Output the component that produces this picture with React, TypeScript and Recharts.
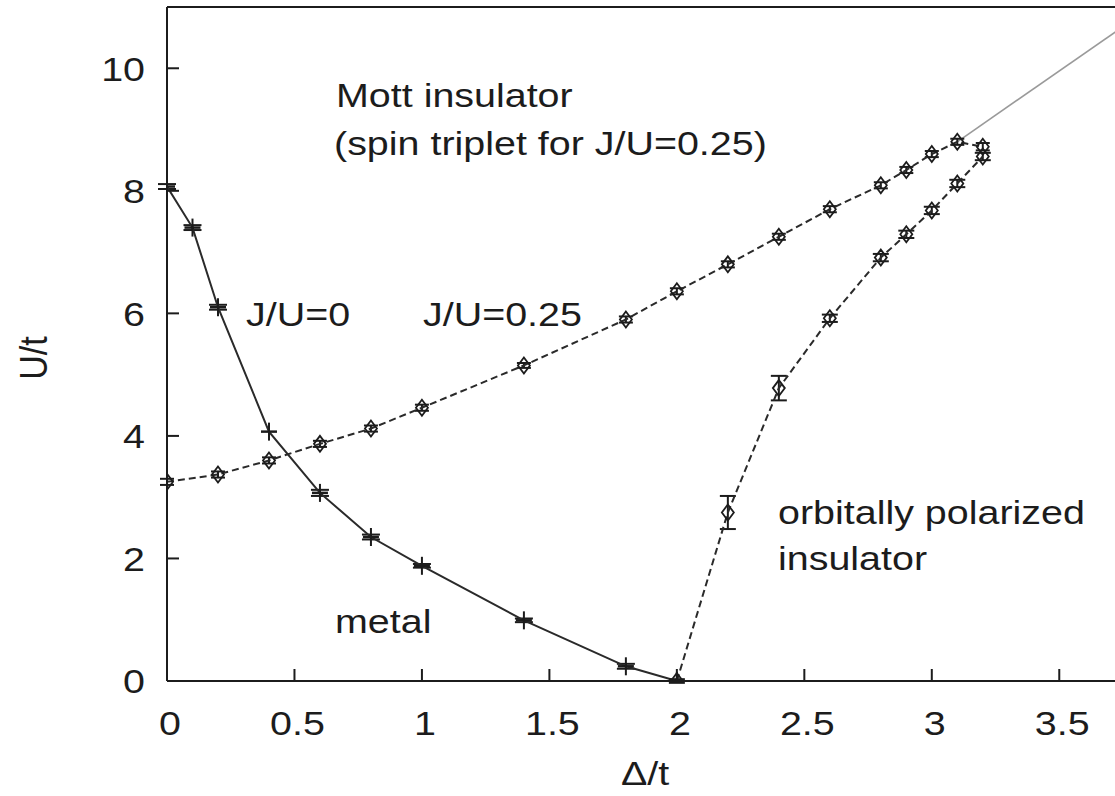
import React from 'react';
import { LineChart, Line, XAxis, YAxis, ErrorBar } from 'recharts';

// J/U = 0 boundary (solid, + markers)
const deltaJ0 = [0, 0.1, 0.2, 0.4, 0.6, 0.8, 1.0, 1.4, 1.8, 2.0];
const uJ0 = [8.07, 7.4, 6.1, 4.07, 3.07, 2.35, 1.88, 0.99, 0.24, 0.0];
const errJ0 = [0.04, 0.04, 0.04, 0.0, 0.05, 0.04, 0.03, 0.03, 0.04, 0.0];

// J/U = 0.25 Mott boundary (dashed, diamonds)
const deltaJ25 = [0, 0.2, 0.4, 0.6, 0.8, 1.0, 1.4, 1.8, 2.0, 2.2, 2.4, 2.6, 2.8, 2.9, 3.0, 3.1, 3.2];
const uJ25 = [3.25, 3.37, 3.6, 3.87, 4.12, 4.46, 5.15, 5.9, 6.36, 6.8, 7.25, 7.7, 8.09, 8.34, 8.6, 8.8, 8.72];
const errJ25 = [0.05, 0.05, 0.05, 0.05, 0.05, 0.05, 0.04, 0.05, 0.05, 0.05, 0.05, 0.05, 0.05, 0.05, 0.05, 0.05, 0.06];

// orbitally polarized insulator boundary (dashed, diamonds)
const deltaOrb = [2.0, 2.2, 2.4, 2.6, 2.8, 2.9, 3.0, 3.1, 3.2];
const uOrb = [0.0, 2.75, 4.78, 5.92, 6.91, 7.29, 7.68, 8.12, 8.56];
const errOrb = [0.03, 0.27, 0.2, 0.06, 0.06, 0.06, 0.06, 0.06, 0.06];

// thin grey continuation
const deltaFit = [3.1, 3.75];
const uFit = [8.8, 10.68];

const xTicks = [0, 0.5, 1, 1.5, 2, 2.5, 3, 3.5];
const yTicks = [0, 2, 4, 6, 8, 10];

const toRows = (xs: number[], ys: number[], es?: number[]) =>
  xs.map((x, i) => ({ x, y: ys[i], err: es ? es[i] : 0 }));

const j0 = toRows(deltaJ0, uJ0, errJ0);
const j25 = toRows(deltaJ25, uJ25, errJ25);
const orb = toRows(deltaOrb, uOrb, errOrb);
const fit = toRows(deltaFit, uFit);

const INK = '#1c1c1c';
const FONT = '"Liberation Sans", Arial, Helvetica, sans-serif';
const SX = 1.16;

const PlusDot = ({ cx, cy }: any) => {
  if (cx == null || cy == null) return null;
  return (
    <g>
      <line x1={cx - 8} y1={cy} x2={cx + 8} y2={cy} stroke={INK} strokeWidth={2.5} />
      <line x1={cx} y1={cy - 9} x2={cx} y2={cy + 9} stroke={INK} strokeWidth={2} />
    </g>
  );
};

const DiamondDot = ({ cx, cy }: any) => {
  if (cx == null || cy == null) return null;
  return (
    <polygon
      points={`${cx},${cy - 8} ${cx + 6},${cy} ${cx},${cy + 8} ${cx - 6},${cy}`}
      fill="none"
      stroke={INK}
      strokeWidth={1.8}
    />
  );
};

const XTick = ({ x, y, payload }: any) => (
  <text
    transform={`translate(${x + 3},${y}) scale(${SX},1)`}
    textAnchor="middle"
    fontFamily={FONT}
    fontSize={34}
    fill={INK}
  >
    {payload.value}
  </text>
);

const YTick = ({ x, y, payload }: any) => (
  <text
    transform={`translate(${x},${y}) scale(${SX},1)`}
    textAnchor="end"
    dy="0.36em"
    fontFamily={FONT}
    fontSize={34}
    fill={INK}
  >
    {payload.value}
  </text>
);

const Note = ({ x, y, children, anchor = 'start' }: any) => (
  <text
    transform={`translate(${x},${y}) scale(${SX},1)`}
    textAnchor={anchor}
    fontFamily={FONT}
    fontSize={34}
    fill={INK}
  >
    {children}
  </text>
);

const axisLine = { stroke: INK, strokeWidth: 2 };

export default function App() {
  return (
    <div
      style={{
        position: 'absolute',
        left: 0,
        top: 0,
        width: 1115,
        height: 796,
        overflow: 'hidden',
        background: '#fff',
      }}
    >
      <LineChart width={1130} height={796} margin={{ top: 0, right: 0, bottom: 0, left: 0 }}>
        <XAxis
          dataKey="x"
          type="number"
          domain={[0, 3.75]}
          allowDataOverflow
          ticks={xTicks}
          height={115}
          axisLine={axisLine}
          tickLine={axisLine}
          tickSize={-12}
          tickMargin={66}
          tick={<XTick />}
        />
        <XAxis
          xAxisId="top"
          orientation="top"
          type="number"
          domain={[0, 3.75]}
          allowDataOverflow
          ticks={xTicks}
          height={7}
          axisLine={axisLine}
          tickLine={axisLine}
          tickSize={-12}
          tick={false}
        />
        <YAxis
          type="number"
          domain={[0, 11]}
          allowDataOverflow
          ticks={yTicks}
          width={167}
          axisLine={axisLine}
          tickLine={axisLine}
          tickSize={-12}
          tickMargin={34}
          tick={<YTick />}
        />
        <YAxis
          yAxisId="right"
          orientation="right"
          type="number"
          domain={[0, 11]}
          allowDataOverflow
          ticks={yTicks}
          width={7}
          axisLine={axisLine}
          tickLine={axisLine}
          tickSize={-12}
          tick={false}
        />
        <Line
          data={fit}
          dataKey="y"
          stroke="#9a9a9a"
          strokeWidth={1.6}
          dot={false}
          isAnimationActive={false}
        />
        <Line
          data={j0}
          dataKey="y"
          stroke="#2a2a2a"
          strokeWidth={2}
          isAnimationActive={false}
          dot={(p: any) => <PlusDot key={`j0-${p.index}`} {...p} />}
        >
          <ErrorBar dataKey="err" direction="y" width={9} stroke={INK} strokeWidth={2} isAnimationActive={false} />
        </Line>
        <Line
          data={j25}
          dataKey="y"
          stroke="#2a2a2a"
          strokeWidth={2}
          strokeDasharray="7 4"
          isAnimationActive={false}
          dot={(p: any) => <DiamondDot key={`j25-${p.index}`} {...p} />}
        >
          <ErrorBar dataKey="err" direction="y" width={7} stroke={INK} strokeWidth={2} isAnimationActive={false} />
        </Line>
        <Line
          data={orb}
          dataKey="y"
          stroke="#2a2a2a"
          strokeWidth={2}
          strokeDasharray="7 4"
          isAnimationActive={false}
          dot={(p: any) => <DiamondDot key={`orb-${p.index}`} {...p} />}
        >
          <ErrorBar dataKey="err" direction="y" width={8} stroke={INK} strokeWidth={2} isAnimationActive={false} />
        </Line>
      </LineChart>
      <svg
        width={1115}
        height={796}
        style={{ position: 'absolute', left: 0, top: 0, pointerEvents: 'none' }}
      >
        <Note x={336} y={107}>Mott insulator</Note>
        <Note x={334} y={155}>(spin triplet for J/U=0.25)</Note>
        <Note x={246} y={326}>J/U=0</Note>
        <Note x={423} y={326}>J/U=0.25</Note>
        <Note x={335} y={633}>metal</Note>
        <Note x={778} y={524}>orbitally polarized</Note>
        <Note x={778} y={570}>insulator</Note>
        <Note x={645} y={785} anchor="middle">Δ/t</Note>
        <text
          transform={`translate(47,358) rotate(-90) scale(1,${SX})`}
          textAnchor="middle"
          fontFamily={FONT}
          fontSize={34}
          fill={INK}
        >
          U/t
        </text>
      </svg>
    </div>
  );
}
